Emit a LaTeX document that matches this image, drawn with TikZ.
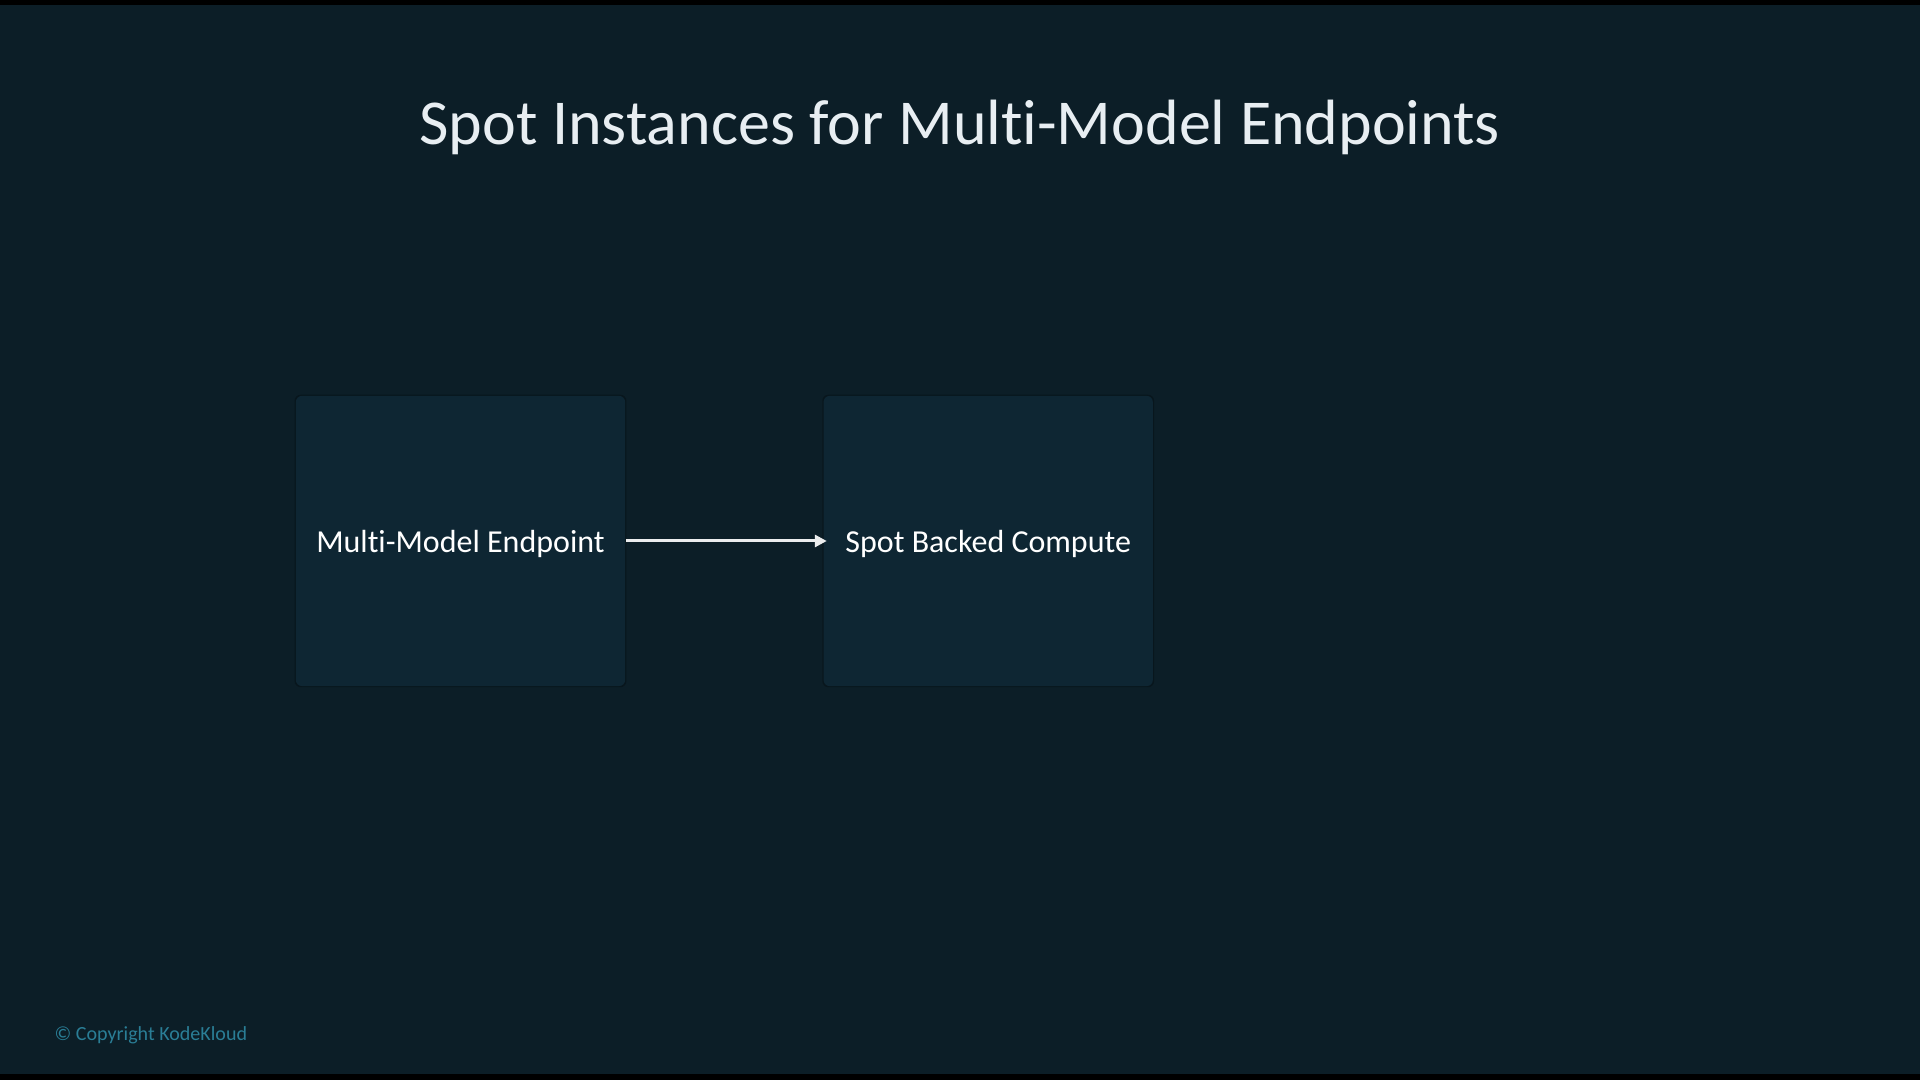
\documentclass[tikz,border=0pt]{standalone}
\usepackage{fontspec}
\setmainfont{Carlito}[Ligatures=NoCommon]
\usetikzlibrary{arrows.meta}
\usetikzlibrary{positioning,shadows}
\definecolor{slidebg}{RGB}{12,30,39}
\definecolor{cardfill}{RGB}{14,38,51}
\definecolor{titlewhite}{RGB}{232,238,242}
\definecolor{kkteal}{RGB}{42,126,150}
\begin{document}
\begin{tikzpicture}[x=0.01cm,y=-0.01cm,
    card/.style={fill=cardfill,rounded corners=1.7pt,minimum width=3.29cm,minimum height=2.9cm,
      font=\fontsize{9.1}{11}\selectfont,text=white,text depth=0pt,
      general shadow={fill=black,opacity=0.25,shadow xshift=0pt,shadow yshift=0pt,shadow scale=1.008}},
    flow/.style={-{Triangle[length=3.4pt,width=3.4pt]},line width=0.85pt,white!92!slidebg}]
    % background and bars
    \fill[slidebg] (0,0) rectangle (1920,1080);
    \useasboundingbox (0,0) rectangle (1920,1080);
    \fill[black] (0,0) rectangle (1920,5);
    \fill[black] (0,1074) rectangle (1920,1080);
    % title
    \node[anchor=base,text=titlewhite,font=\fontsize{18.2}{22}\selectfont] (title) at (960,145)
      {Spot Instances for Multi-Model Endpoints};
    % the two cards
    \node[card] (mme) at (460.5,541) {Multi-Model Endpoint};
    \node[card,right=1.97cm of mme] (sbc) {Spot Backed Compute};
    \draw[flow,shorten >=-1.1pt] (mme) -- (sbc);
    \node[anchor=base west,inner sep=0pt,text=kkteal,font=\fontsize{5.7}{7}\selectfont] (copy) at (54,1041)
      {\textcopyright{} Copyright KodeKloud};
  \end{tikzpicture}
\end{document}
